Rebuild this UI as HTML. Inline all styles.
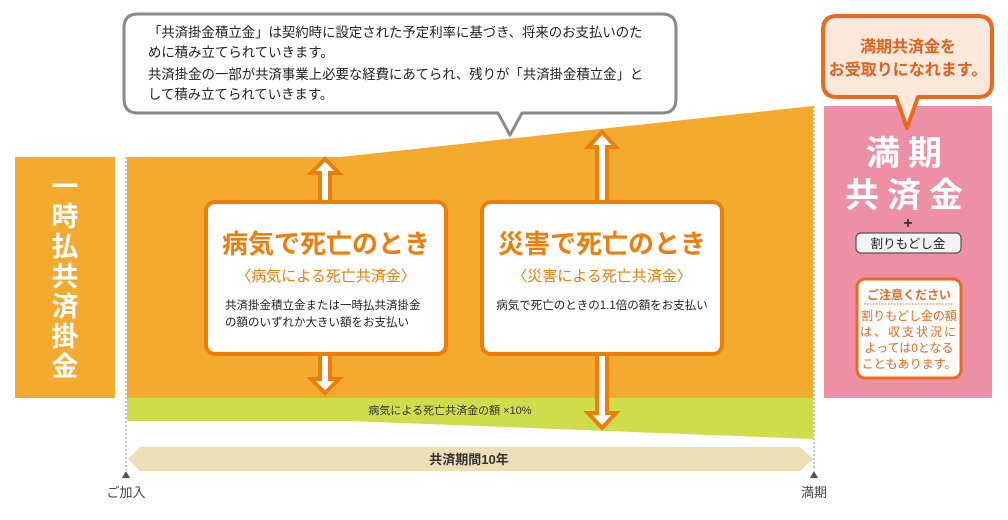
<!DOCTYPE html>
<html><head><meta charset="utf-8"><style>
body{margin:0;background:#fff;}
svg text{font-family:"Liberation Sans","Noto Sans CJK JP",sans-serif;}
</style></head><body>
<svg width="1008" height="515" viewBox="0 0 1008 515" xmlns="http://www.w3.org/2000/svg">
<rect x="15" y="157" width="100" height="241" fill="#f4aa2e"/>
<g fill="#fff" font-size="27" font-weight="bold" text-anchor="middle">
<text x="65" y="196">一</text><text x="65" y="226">時</text><text x="65" y="256">払</text>
<text x="65" y="286">共</text><text x="65" y="316">済</text><text x="65" y="346">掛</text><text x="65" y="376">金</text>
</g>
<polygon points="127,157 340,157 813,106 813,398 127,398" fill="#f4aa2e"/>
<polygon points="127,398 813,398 813,439 350,421 127,421" fill="#cfdd4a"/>
<text x="450" y="414" font-size="11" text-anchor="middle" fill="#333">病気による死亡共済金の額 ×10%</text>
<line x1="126" y1="157" x2="126" y2="470" stroke="#888" stroke-dasharray="2,2"/>
<line x1="814" y1="106" x2="814" y2="470" stroke="#888" stroke-dasharray="2,2"/>
<polygon points="126,471 122,478 130,478" fill="#555"/>
<polygon points="814,471 810,478 818,478" fill="#555"/>
<text x="126" y="497" font-size="13" text-anchor="middle" fill="#444">ご加入</text>
<text x="814" y="497" font-size="13" text-anchor="middle" fill="#444">満期</text>
<polygon points="128,459 140,447 800,447 813,459 800,471 140,471" fill="#ecdfb5"/>
<text x="469" y="464" font-size="13" text-anchor="middle" fill="#333" font-weight="bold">共済期間10年</text>
<g fill="#fff" stroke="#ef7d0a" stroke-width="4" stroke-linejoin="miter">
<polygon points="325,159 339,173 330,173 330,202 320,202 320,173 311,173"/>
<polygon points="325,393 339,379 330,379 330,354 320,354 320,379 311,379"/>
<polygon points="602,132 616,147 607,147 607,202 597,202 597,147 588,147"/>
<polygon points="602,428 616,413 607,413 607,354 597,354 597,413 588,413"/>
</g>
<rect x="206" y="202" width="240" height="152" rx="9" fill="#fff" stroke="#ef7d0a" stroke-width="4"/>
<rect x="482" y="202" width="240" height="152" rx="9" fill="#fff" stroke="#ef7d0a" stroke-width="4"/>
<g fill="#ef7d0a" text-anchor="middle">
<text x="326" y="253" font-size="26" font-weight="bold">病気で死亡のとき</text>
<text x="326" y="281" font-size="15">〈病気による死亡共済金〉</text>
<text x="602" y="253" font-size="26" font-weight="bold">災害で死亡のとき</text>
<text x="602" y="281" font-size="15">〈災害による死亡共済金〉</text>
</g>
<g fill="#222" font-size="11.5">
<text x="225" y="309">共済掛金積立金または一時払共済掛金</text>
<text x="225" y="326">の額のいずれか大きい額をお支払い</text>
<text x="602" y="309" text-anchor="middle">病気で死亡のときの1.1倍の額をお支払い</text>
</g>
<path d="M138,14 H662 Q676,14 676,28 V99 Q676,113 662,113 H522 L510,135 L498,113 H138 Q124,113 124,99 V28 Q124,14 138,14 Z" fill="#fff" stroke="#8a8a8a" stroke-width="3" stroke-linejoin="round"/>
<g fill="#222" font-size="13.4">
<text x="148" y="37">「共済掛金積立金」は契約時に設定された予定利率に基づき、将来のお支払いのた</text>
<text x="148" y="57">めに積み立てられていきます。</text>
<text x="148" y="79">共済掛金の一部が共済事業上必要な経費にあてられ、残りが「共済掛金積立金」と</text>
<text x="148" y="99">して積み立てられていきます。</text>
</g>
<rect x="824" y="106" width="168" height="292" fill="#ed8fa5"/>
<g fill="#fff" font-size="34" font-weight="bold" text-anchor="middle">
<text x="908" y="165" letter-spacing="8">満期</text>
<text x="908" y="207" letter-spacing="8">共済金</text>
</g>
<text x="908" y="228" font-size="16" font-weight="bold" text-anchor="middle" fill="#333">+</text>
<rect x="856" y="233" width="105" height="20" rx="5" fill="#f3f3f3" stroke="#555" stroke-width="1.2"/>
<text x="908" y="248" font-size="12.5" text-anchor="middle" fill="#222">割りもどし金</text>
<rect x="857" y="279" width="104" height="99" rx="8" fill="#fff" stroke="#ec6a1f" stroke-width="3"/>
<text x="909" y="299" font-size="12" font-weight="bold" text-anchor="middle" fill="#ec6a1f">ご注意ください</text>
<line x1="864" y1="304" x2="954" y2="304" stroke="#ec6a1f" stroke-dasharray="1.5,1.5"/>
<g fill="#ec6a1f" font-size="12" text-anchor="middle">
<text x="909" y="320">割りもどし金の額</text>
<text x="909" y="336" letter-spacing="2">は、収支状況に</text>
<text x="909" y="352">よっては0となる</text>
<text x="909" y="368">こともあります。</text>
</g>
<path d="M837,16 H978 Q992,16 992,30 V83 Q992,97 978,97 H918 L907,128 L896,97 H837 Q823,97 823,83 V30 Q823,16 837,16 Z" fill="#fde9dc" stroke="#ec6a1f" stroke-width="4" stroke-linejoin="round"/>
<g fill="#e2601a" font-size="16" font-weight="bold" text-anchor="middle">
<text x="908" y="52">満期共済金を</text>
<text x="908" y="75">お受取りになれます。</text>
</g>
</svg>
</body></html>
